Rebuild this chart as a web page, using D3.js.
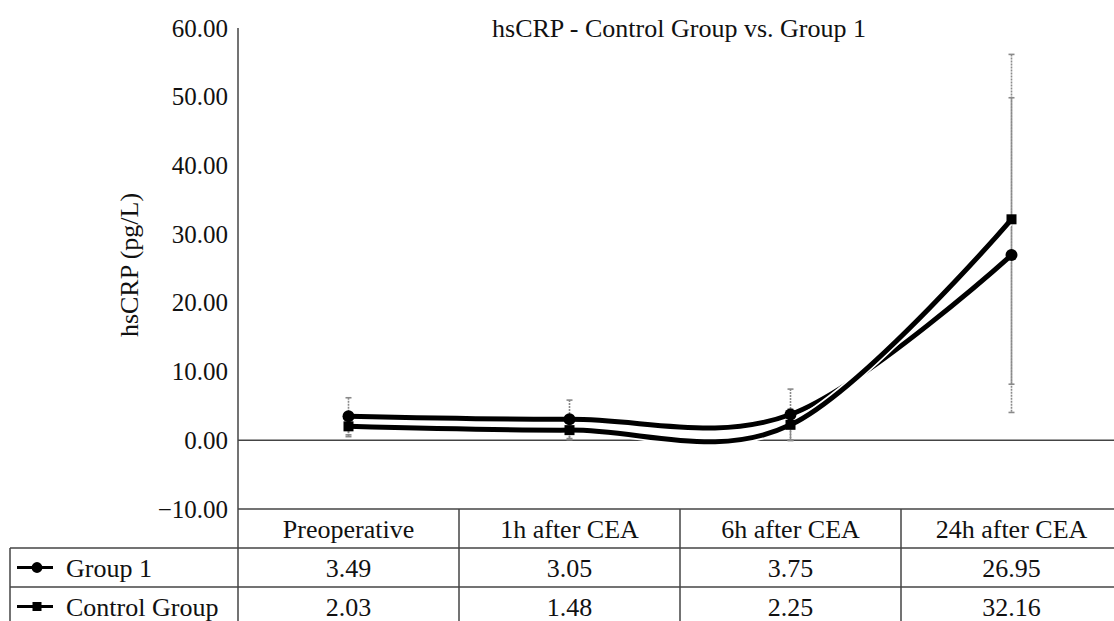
<!DOCTYPE html>
<html>
<head>
<meta charset="utf-8">
<script src="https://cdn.jsdelivr.net/npm/d3@7"></script>
<style>
    body { margin: 0; background: #fff; }
    svg { display: block; font-family: "Liberation Serif", "Times New Roman", serif; }
</style>
</head>
<body>
<div id="chart"></div>
<script>
// values
const categories = ["Preoperative", "1h after CEA", "6h after CEA", "24h after CEA"];
const group1 = [3.49, 3.05, 3.75, 26.95];
const control = [2.03, 1.48, 2.25, 32.16];
const group1Sd = [2.7, 2.8, 3.7, 22.9];
const controlSd = [1.5, 1.4, 2.3, 24.0];
const yTicks = [-10, 0, 10, 20, 30, 40, 50, 60];

const W = 1114, H = 621;
const LINE = "#444";
const FONT = 26;

const svg = d3.select("#chart").append("svg")
    .attr("width", W)
    .attr("height", H);

const plotLeft = 238;
const colW = 221;
const x = d3.scaleBand()
    .domain(categories)
    .range([plotLeft, plotLeft + colW * categories.length])
    .padding(0);
const cx = (c) => x(c) + x.bandwidth() / 2;

const y = d3.scaleLinear().domain([-10, 60]).range([509, 28]);

// title
svg.append("text")
    .attr("x", 679)
    .attr("y", 37)
    .attr("text-anchor", "middle")
    .attr("font-size", FONT)
    .attr("fill", "#111")
    .text("hsCRP - Control Group vs. Group 1");

// y axis
const yAxis = svg.append("g")
    .attr("transform", `translate(${plotLeft},0)`)
    .call(d3.axisLeft(y).tickValues(yTicks).tickSize(0).tickPadding(10)
        .tickFormat(d3.format(".2f")));
yAxis.select(".domain").remove();
yAxis.selectAll("text")
    .attr("font-size", 25)
    .attr("font-family", "Liberation Serif")
    .attr("fill", "#111");

svg.append("line")
    .attr("x1", plotLeft).attr("x2", plotLeft)
    .attr("y1", y(60)).attr("y2", H)
    .attr("stroke", LINE).attr("stroke-width", 1.5);

svg.append("text")
    .attr("transform", `translate(138,265) rotate(-90)`)
    .attr("text-anchor", "middle")
    .attr("font-size", FONT)
    .attr("fill", "#111")
    .text("hsCRP (pg/L)");

// zero line
svg.append("line")
    .attr("x1", plotLeft).attr("x2", W)
    .attr("y1", y(0)).attr("y2", y(0))
    .attr("stroke", LINE).attr("stroke-width", 1.5);

// data table
const rowTop = y(-10);
const rows = [rowTop, 548, 587, 626];

svg.append("line")
    .attr("x1", plotLeft).attr("x2", W)
    .attr("y1", rows[0]).attr("y2", rows[0])
    .attr("stroke", LINE).attr("stroke-width", 1.5);
[rows[1], rows[2]].forEach((ry) => {
    svg.append("line")
        .attr("x1", 10).attr("x2", W)
        .attr("y1", ry).attr("y2", ry)
        .attr("stroke", LINE).attr("stroke-width", 1.5);
});
svg.append("line")
    .attr("x1", 10).attr("x2", 10)
    .attr("y1", rows[1]).attr("y2", H)
    .attr("stroke", LINE).attr("stroke-width", 1.5);
categories.slice(1).forEach((c) => {
    svg.append("line")
        .attr("x1", x(c)).attr("x2", x(c))
        .attr("y1", rows[0]).attr("y2", H)
        .attr("stroke", LINE).attr("stroke-width", 1.5);
});

const rowMid = (i) => (rows[i] + rows[i + 1]) / 2;

svg.selectAll(".cat-label")
    .data(categories)
    .enter()
    .append("text")
    .attr("class", "cat-label")
    .attr("x", (d) => cx(d))
    .attr("y", rowMid(0))
    .attr("dy", "0.35em")
    .attr("text-anchor", "middle")
    .attr("font-size", FONT)
    .attr("fill", "#111")
    .text((d) => d);

const series = [
    { name: "Group 1", values: group1, sd: group1Sd, marker: "circle" },
    { name: "Control Group", values: control, sd: controlSd, marker: "square" }
];

series.forEach((s, si) => {
    const my = rowMid(si + 1);
    svg.selectAll(`.val-${si}`)
        .data(s.values)
        .enter()
        .append("text")
        .attr("class", `val-${si}`)
        .attr("x", (d, i) => cx(categories[i]))
        .attr("y", my)
        .attr("dy", "0.35em")
        .attr("text-anchor", "middle")
        .attr("font-size", FONT)
        .attr("fill", "#111")
        .text((d) => d.toFixed(2));

    // legend key
    svg.append("line")
        .attr("x1", 17).attr("x2", 53)
        .attr("y1", my).attr("y2", my)
        .attr("stroke", "#000").attr("stroke-width", 3);
    drawMarker(svg, s.marker, 37, my, 0.9);
    svg.append("text")
        .attr("x", 66)
        .attr("y", my)
        .attr("dy", "0.35em")
        .attr("font-size", FONT)
        .attr("fill", "#111")
        .text(s.name);
});

function drawMarker(g, type, mx, my, k) {
    if (type === "circle") {
        g.append("circle")
            .attr("cx", mx).attr("cy", my).attr("r", 6 * k)
            .attr("fill", "#000");
    } else {
        const s = 10 * k;
        g.append("rect")
            .attr("x", mx - s / 2).attr("y", my - s / 2)
            .attr("width", s).attr("height", s)
            .attr("fill", "#000");
    }
}

// error bars
series.forEach((s) => {
    s.values.forEach((v, i) => {
        const px = cx(categories[i]);
        const top = y(v + s.sd[i]);
        const bot = y(v - s.sd[i]);
        const eb = svg.append("g")
            .attr("stroke", "#8a8a8a")
            .attr("stroke-width", 1.6);
        eb.append("line")
            .attr("x1", px).attr("x2", px)
            .attr("y1", top).attr("y2", bot)
            .attr("stroke-dasharray", "2,1");
        [top, bot].forEach((cy) => {
            eb.append("line")
                .attr("x1", px - 3).attr("x2", px + 3)
                .attr("y1", cy).attr("y2", cy);
        });
    });
});

// smoothed lines
const line = d3.line()
    .x((d, i) => cx(categories[i]))
    .y((d) => y(d))
    .curve(d3.curveCardinal.tension(0));

series.forEach((s) => {
    svg.append("path")
        .attr("d", line(s.values))
        .attr("fill", "none")
        .attr("stroke", "#fff")
        .attr("stroke-width", 8.5);
    svg.append("path")
        .attr("d", line(s.values))
        .attr("fill", "none")
        .attr("stroke", "#000")
        .attr("stroke-width", 5);
});

series.forEach((s) => {
    s.values.forEach((v, i) => {
        drawMarker(svg, s.marker, cx(categories[i]), y(v), 1);
    });
});
</script>
</body>
</html>
